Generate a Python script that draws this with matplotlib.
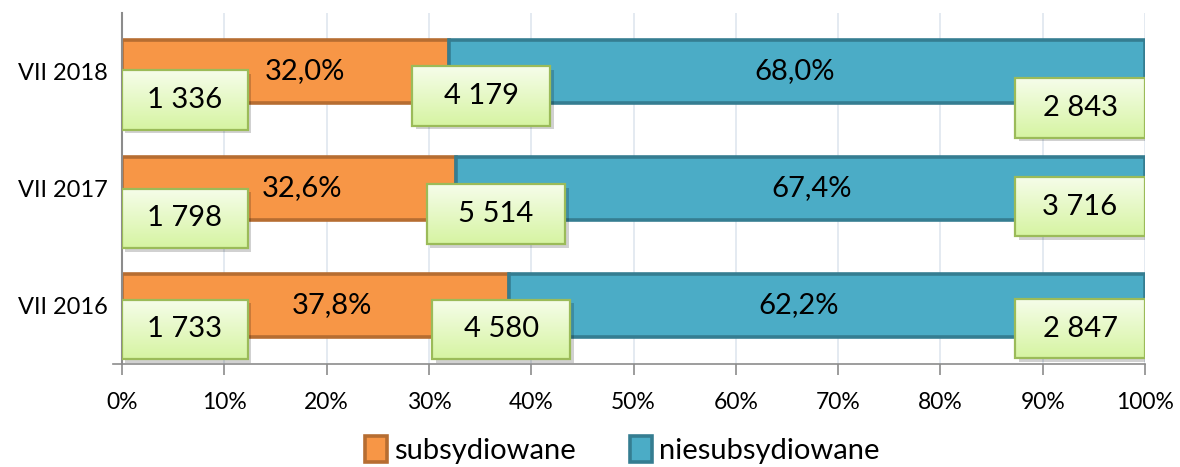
import matplotlib
matplotlib.use("Agg")
import matplotlib.pyplot as plt
import matplotlib.transforms as mtransforms
from matplotlib.patches import Rectangle
from matplotlib.lines import Line2D
from matplotlib.colors import LinearSegmentedColormap
import numpy as np

# ---- data ----
categories = ["VII 2018", "VII 2017", "VII 2016"]
subsidized = [1336, 1798, 1733]
non_subsidized = [2843, 3716, 2847]
series_names = ["subsydiowane", "niesubsydiowane"]
x_ticks = [0, 10, 20, 30, 40, 50, 60, 70, 80, 90, 100]

# ---- layout (label placement tweaks, not data) ----
left_box_dy = [-0.244, -0.256, -0.205]
mid_box_dx = [3.15, 3.95, -0.75]
mid_box_dy = [-0.21, -0.22, -0.205]
right_box_dy = [-0.31, -0.154, -0.197]
pct_sub_dx = [1.9, 1.3, 1.6]
pct_non_dx = [-0.2, 1.1, -2.8]

plt.rcParams['font.family'] = ['Lato', 'DejaVu Sans']

ORANGE, ORANGE_E = "#f79646", "#b66d31"
TEAL, TEAL_E = "#4bacc6", "#357d91"

fig = plt.figure(figsize=(11.8, 4.67), dpi=100)
ax = fig.add_axes([122/1180, 1-364/467, (1145-122)/1180, (364-13)/467])

n = len(categories)
ypos = np.arange(n)[::-1].astype(float)
totals = [s + ns for s, ns in zip(subsidized, non_subsidized)]
sub_pct = [100 * s / t for s, t in zip(subsidized, totals)]
non_pct = [100 * ns / t for ns, t in zip(non_subsidized, totals)]

bh = 0.53
ax.barh(ypos, sub_pct, height=bh, color=ORANGE, edgecolor=ORANGE_E, linewidth=2.6,
        label=series_names[0], zorder=2)
ax.barh(ypos, non_pct, left=sub_pct, height=bh, color=TEAL, edgecolor=TEAL_E,
        linewidth=2.6, label=series_names[1], zorder=2)

ax.set_xlim(0, 100)
ax.set_ylim(-0.5, 2.5)

ax.set_xticks(x_ticks)
ax.set_xticklabels([f"{t}%" for t in x_ticks], fontsize=16.5)
ax.set_yticks(ypos)
ax.set_yticklabels(categories, fontsize=17)
ax.tick_params(axis='y', length=0, pad=10)
ax.tick_params(axis='x', length=8, width=1.2, color="#8c8c8c", pad=12)
ax.xaxis.grid(True, color="#dfe6ef", linewidth=1.2, zorder=0)
ax.set_axisbelow(True)
for s in ["top", "right"]:
    ax.spines[s].set_visible(False)
ax.spines["left"].set_color("#8c8c8c")
ax.spines["left"].set_linewidth(1.5)
ax.spines["bottom"].set_color("#8c8c8c")
ax.spines["bottom"].set_linewidth(1.2)
ax.add_line(Line2D([-0.009, 0], [0, 0], transform=ax.transAxes, color="#8c8c8c",
                   linewidth=1.2, clip_on=False))

def fmt_num(v):
    return f"{v:,}".replace(",", " ")

def fmt_pct(p):
    return f"{p:.1f}%".replace(".", ",")

cmap = LinearSegmentedColormap.from_list("g", ["#f6fdea", "#d6f4a2"])
grad = np.linspace(0, 1, 64).reshape(-1, 1)
shadow_tr = ax.transData + mtransforms.ScaledTranslation(2.5/72, -2.5/72, fig.dpi_scale_trans)
box_h = 0.51

def box(xc, yc, w, text):
    x0, x1 = xc - w/2, xc + w/2
    y0, y1 = yc - box_h/2, yc + box_h/2
    ax.add_patch(Rectangle((x0, y0), w, box_h, facecolor="#000000", alpha=0.18,
                           edgecolor="none", transform=shadow_tr, zorder=4))
    ax.imshow(grad, extent=[x0, x1, y0, y1], aspect='auto', cmap=cmap,
              origin='upper', zorder=5)
    ax.add_patch(Rectangle((x0, y0), w, box_h, facecolor="none", edgecolor="#9bbb59",
                           linewidth=1.6, zorder=6))
    ax.text(xc, yc, text, ha='center', va='center', fontsize=21, zorder=7, color="black")

for i in range(n):
    y = ypos[i]
    ax.text(sub_pct[i]/2 + pct_sub_dx[i], y, fmt_pct(sub_pct[i]), ha='center', va='center',
            fontsize=21, zorder=3)
    ax.text(sub_pct[i] + non_pct[i]/2 + pct_non_dx[i], y, fmt_pct(non_pct[i]), ha='center',
            va='center', fontsize=21, zorder=3)
    wl, wm, wr = 12.3, 13.5, 12.7
    box(wl/2, y + left_box_dy[i], wl, fmt_num(subsidized[i]))
    box(sub_pct[i] + mid_box_dx[i], y + mid_box_dy[i], wm, fmt_num(totals[i]))
    box(100 - wr/2, y + right_box_dy[i], wr, fmt_num(non_subsidized[i]))

ax.set_xlim(0, 100)
ax.set_ylim(-0.5, 2.5)

leg = fig.legend(loc='center', bbox_to_anchor=(0.5275, 1-450/467), ncol=2, frameon=False,
                 fontsize=21, handlelength=0.75, handleheight=1.0, handletextpad=0.25,
                 columnspacing=1.85)

fig.savefig("out.png", dpi=100)
